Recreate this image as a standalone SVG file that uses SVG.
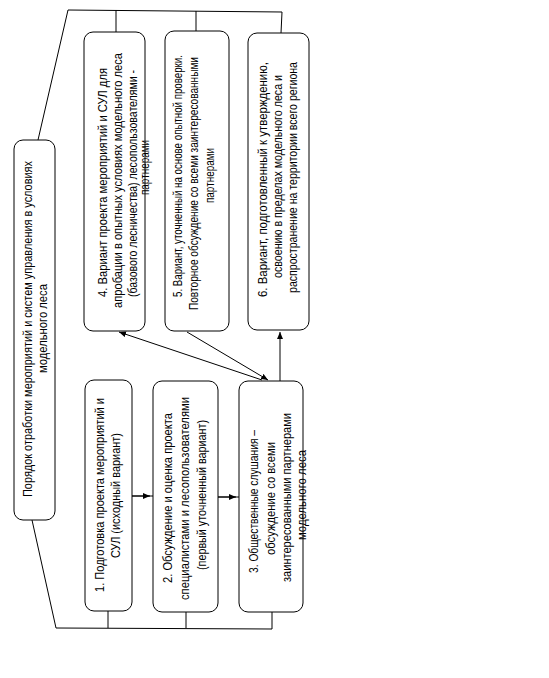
<svg xmlns="http://www.w3.org/2000/svg" width="549" height="678" viewBox="0 0 549 678">
<style>
.box{fill:#fff;stroke:#000;stroke-width:1}
.ln{fill:none;stroke:#000;stroke-width:1}
text{font-family:"Liberation Sans",Arial,sans-serif;font-size:12px;fill:#000}
</style>
<defs>
<marker id="ah" markerWidth="7" markerHeight="6" refX="7" refY="3" orient="auto" markerUnits="userSpaceOnUse">
<path d="M0,0 L7,3 L0,6 Z" fill="#000"/>
</marker>
</defs>
<rect width="549" height="678" fill="#fff"/>
<g id="connectors">
<polyline class="ln" points="38,140 68,10 282,12"/>
<line class="ln" x1="116" y1="10" x2="116" y2="32"/>
<line class="ln" x1="196" y1="11" x2="196" y2="31"/>
<line class="ln" x1="282" y1="12" x2="281" y2="33"/>
<polyline class="ln" points="32,520 56,628 272,629"/>
<line class="ln" x1="108" y1="611" x2="108" y2="628"/>
<line class="ln" x1="186" y1="612" x2="186" y2="628"/>
<line class="ln" x1="272" y1="612" x2="272" y2="629"/>
<line class="ln" x1="132" y1="496" x2="153" y2="496"/>
<line class="ln" x1="132" y1="496" x2="150" y2="496" marker-end="url(#ah)"/>
<line class="ln" x1="218" y1="497" x2="239" y2="497"/>
<line class="ln" x1="218" y1="497" x2="236" y2="497" marker-end="url(#ah)"/>
<line class="ln" x1="280" y1="381" x2="280" y2="332" marker-end="url(#ah)"/>
<line class="ln" x1="262" y1="380" x2="119" y2="332" marker-end="url(#ah)"/>
<line class="ln" x1="187" y1="332" x2="268" y2="380" marker-end="url(#ah)"/>
</g>
<g id="node0">
<rect class="box" x="14" y="140" width="41" height="380" rx="9"/>
<text transform="translate(32,497) rotate(-90)" textLength="336" lengthAdjust="spacingAndGlyphs">Порядок отработки мероприятий и систем управления в условиях</text>
<text transform="translate(47,373) rotate(-90)" textLength="89" lengthAdjust="spacingAndGlyphs">модельного леса</text>
</g>
<g id="node1">
<rect class="box" x="85" y="380" width="47" height="231" rx="9"/>
<text transform="translate(104,592) rotate(-90)" textLength="194" lengthAdjust="spacingAndGlyphs">1. Подготовка проекта мероприятий и</text>
<text transform="translate(120,558) rotate(-90)" textLength="125" lengthAdjust="spacingAndGlyphs">СУЛ (исходный вариант)</text>
</g>
<g id="node2">
<rect class="box" x="153" y="381" width="65" height="231" rx="9"/>
<text transform="translate(172,583) rotate(-90)" textLength="170" lengthAdjust="spacingAndGlyphs">2. Обсуждение и оценка проекта</text>
<text transform="translate(189,600) rotate(-90)" textLength="203" lengthAdjust="spacingAndGlyphs">специалистами и лесопользователями</text>
<text transform="translate(206,570) rotate(-90)" textLength="150" lengthAdjust="spacingAndGlyphs">(первый уточненный вариант)</text>
</g>
<g id="node3">
<rect class="box" x="239" y="381" width="64" height="231" rx="9"/>
<text transform="translate(258,573) rotate(-90)" textLength="143" lengthAdjust="spacingAndGlyphs">3. Общественные слушания –</text>
<text transform="translate(274.5,555) rotate(-90)" textLength="113" lengthAdjust="spacingAndGlyphs">обсуждение со всеми</text>
<text transform="translate(291,582) rotate(-90)" textLength="169" lengthAdjust="spacingAndGlyphs">заинтересованными партнерами</text>
<text transform="translate(306,540) rotate(-90)" textLength="90" lengthAdjust="spacingAndGlyphs">модельного леса</text>
</g>
<g id="node4">
<rect class="box" x="84" y="32" width="61" height="299" rx="9"/>
<text transform="translate(106.5,297) rotate(-90)" textLength="229" lengthAdjust="spacingAndGlyphs">4. Вариант проекта мероприятий и СУЛ для</text>
<text transform="translate(121.5,308) rotate(-90)" textLength="255" lengthAdjust="spacingAndGlyphs">апробации в опытных условиях модельного леса</text>
<text transform="translate(136.5,297) rotate(-90)" textLength="227" lengthAdjust="spacingAndGlyphs">(базового лесничества) лесопользователями -</text>
<text transform="translate(149,195) rotate(-90)" textLength="55" lengthAdjust="spacingAndGlyphs">партнерами</text>
</g>
<g id="node5">
<rect class="box" x="165" y="31" width="64" height="300" rx="9"/>
<text transform="translate(182,297) rotate(-90)" textLength="242" lengthAdjust="spacingAndGlyphs">5. Вариант, уточненный на основе опытной проверки.</text>
<text transform="translate(198,310) rotate(-90)" textLength="253" lengthAdjust="spacingAndGlyphs">Повторное обсуждение со всеми заинтересованными</text>
<text transform="translate(214,203) rotate(-90)" textLength="55" lengthAdjust="spacingAndGlyphs">партнерами</text>
</g>
<g id="node6">
<rect class="box" x="248" y="33" width="61" height="297" rx="9"/>
<text transform="translate(267,297) rotate(-90)" textLength="235" lengthAdjust="spacingAndGlyphs">6. Вариант, подготовленный к утверждению,</text>
<text transform="translate(282,278) rotate(-90)" textLength="203" lengthAdjust="spacingAndGlyphs">освоению в пределах модельного леса и</text>
<text transform="translate(297,293) rotate(-90)" textLength="231" lengthAdjust="spacingAndGlyphs">распространение на территории всего региона</text>
</g>
</svg>
